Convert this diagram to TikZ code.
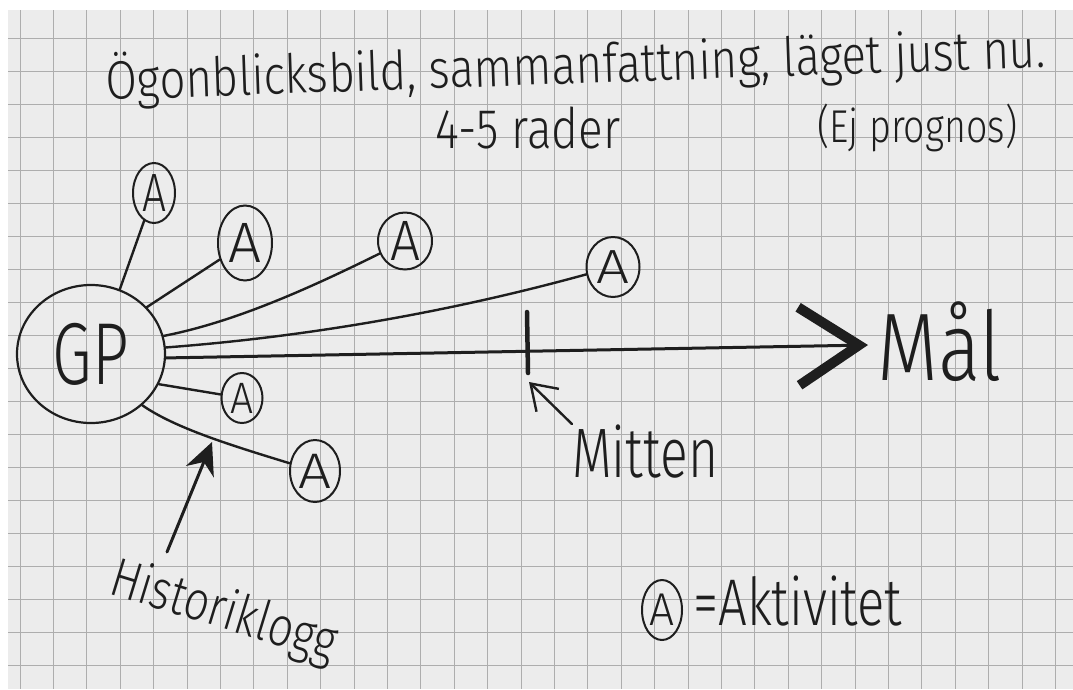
\documentclass[tikz,border=0pt]{standalone}
\usepackage{fontspec}
\setmainfont{Fira Sans Light}
\usepackage{graphicx}
\usetikzlibrary{arrows.meta,shapes.geometric}
\definecolor{paper}{HTML}{ECECEC}
\definecolor{gridc}{HTML}{ADADAD}
\definecolor{ink}{HTML}{1E1E1E}
\newcommand\fitw[2]{\resizebox{#1}{\height}{#2}}
\newcommand\fs[1]{\fontsize{#1}{#1}\selectfont}
\begin{document}
\begin{tikzpicture}[x=1pt,y=-1pt,
  hand/.style={text=ink,inner sep=0pt},
  act/.style={ellipse,draw=ink,line width=2pt,inner sep=0pt,text=ink},
  link/.style={draw=ink,line width=2.4pt,line cap=round},
  gridline/.style={draw=gridc,line width=1pt}]
\useasboundingbox (0,0) rectangle (1073,689);
\fill[white] (0,0) rectangle (1073,689);
\fill[paper] (8,10) rectangle (1073,689);
\foreach \i in {0,...,31} \draw[gridline] ({20+33.4*\i},10) -- ({20+33.4*\i},689);
\foreach \j in {0,...,19} \draw[gridline] (8,{38+33*\j}) -- (1073,{38+33*\j});

% texts
\node[hand,anchor=base west,rotate=2,font=\fs{54}] (title) at (106,100) {\fitw{940pt}{Ögonblicksbild, sammanfattning, läget just nu.}};
\node[hand,anchor=base west,font=\fs{56}] (rader) at (435,148) {\fitw{185pt}{4-5 rader}};
\node[hand,anchor=base west,font=\fs{46}] (ej) at (817,142) {\fitw{200pt}{(Ej prognos)}};
\node[hand,anchor=base west,font=\fs{96}] (mal) at (877,380) {\fitw{125pt}{Mål}};
\node[hand,anchor=base west,font=\fs{70}] (mitten) at (572,477) {\fitw{146pt}{Mitten}};
\node[hand,anchor=base west,rotate=-17,font=\fs{55}] (hist) at (107,593) {\fitw{234pt}{Historiklogg}};

% GP and activities
\node[ellipse,draw=ink,line width=2.2pt,minimum width=148pt,minimum height=138pt,inner sep=0pt,text=ink,font=\fs{88}] (gp) at (91,354) {\fitw{76pt}{GP}};
\node[act,minimum width=42pt,minimum height=60pt,font=\fs{54}] (a1) at (154,193) {\fitw{24pt}{A}};
\node[act,minimum width=54pt,minimum height=75pt,font=\fs{57}] (a2) at (245,243) {\fitw{33pt}{A}};
\node[act,minimum width=54pt,minimum height=57pt,font=\fs{57}] (a3) at (405,241) {\fitw{30pt}{A}};
\node[act,minimum width=53pt,minimum height=60pt,font=\fs{48}] (a4) at (613,267) {\fitw{33pt}{A}};
\node[act,minimum width=41pt,minimum height=50pt,font=\fs{44}] (a5) at (242,398) {\fitw{23pt}{A}};
\node[act,minimum width=50pt,minimum height=62pt,font=\fs{50}] (a6) at (315,471) {\fitw{33pt}{A}};

% legend
\node[act,minimum width=40pt,minimum height=60pt,font=\fs{46}] (legA) at (662,610) {\fitw{25pt}{A}};
\node[hand,anchor=base west,font=\fs{66}] (legtxt) at (693,625) {\fitw{209pt}{=Aktivitet}};

% links
\draw[link] (gp.66) -- (a1);
\draw[link] (gp.40) -- (a2);
\draw[link] (gp.14) .. controls (235,322) and (310,288) .. (a3);
\draw[link] (gp.5) .. controls (304,337) and (446,313) .. (a4);
\draw[link] (gp.-24) -- (a5);
\draw[link] (gp.-45) .. controls (175,428) and (230,445) .. (a6);

% main axis
\coordinate (goal) at (868,345);
\draw[link,line width=3pt,-{Straight Barb[length=60pt,width=78pt,line width=10pt]}] (gp.-3) -- (goal);

% middle tick
\coordinate (ticktop) at (527,312);
\coordinate (tickbot) at (528,373);
\draw[link,line width=4.5pt] (ticktop) -- (tickbot);

% pointers
\coordinate (mtip) at (529,382);
\draw[link,-{Straight Barb[length=24pt,width=32pt]}] (mitten.north west) -- (mtip);
\coordinate (htail) at (167,552);
\coordinate (hlog) at (212,442);
\draw[link,line width=3pt,-{Stealth[length=32pt,width=30pt]}] (htail) -- (hlog);
\end{tikzpicture}
\end{document}
